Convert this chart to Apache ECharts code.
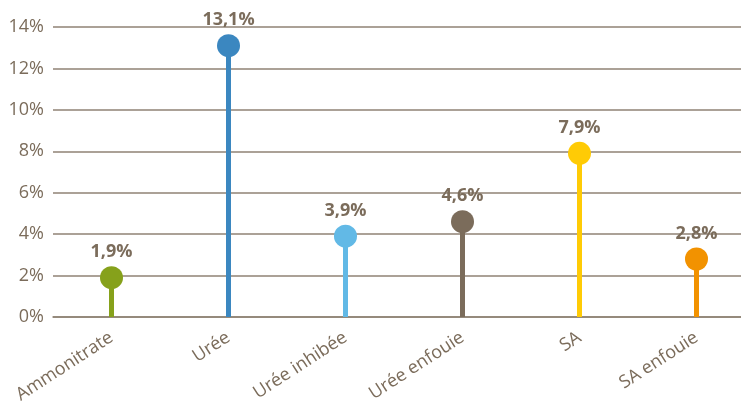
<!DOCTYPE html>
<html><head><meta charset="utf-8">
<script src="https://cdn.jsdelivr.net/npm/echarts@6/dist/echarts.min.js"></script>
<style>html,body{margin:0;padding:0;background:#fff;overflow:hidden}#c{width:755px;height:406px}</style>
</head><body><div id="c"></div>
<script>
const categories = ['Ammonitrate', 'Urée', 'Urée inhibée', 'Urée enfouie', 'SA', 'SA enfouie'];
const values = [1.9, 13.1, 3.9, 4.6, 7.9, 2.8];
const colors = ['#86a11b', '#3b87c0', '#62b9e6', '#7b6c5b', '#ffcb05', '#f29200'];
const yTicks = { min: 0, max: 14, interval: 2 };

const txt = '#7b6c5b';
const gridC = '#8f8274';
const chart = echarts.init(document.getElementById('c'), null, {renderer: 'canvas'});
chart.setOption({
  animation: false,
  grid: { left: 53, right: 0, top: 27, bottom: 89 },
  xAxis: {
    type: 'category', data: categories,
    axisTick: { show: false },
    axisLine: { lineStyle: { color: gridC, width: 1.5 } },
    axisLabel: { rotate: 33, color: txt, fontSize: 18, fontFamily: 'Open Sans', margin: 19, interval: 0 }
  },
  yAxis: {
    type: 'value', min: yTicks.min, max: yTicks.max, interval: yTicks.interval,
    axisLine: { show: false }, axisTick: { show: false },
    splitLine: { lineStyle: { color: gridC, width: 1.5 } },
    axisLabel: { formatter: '{value}%', color: txt, fontSize: 18, fontFamily: 'Open Sans', margin: 9 }
  },
  series: [
    {
      type: 'bar', barWidth: 5, z: 2,
      data: values.map((v, i) => ({ value: v, itemStyle: { color: colors[i] } }))
    },
    {
      type: 'scatter', symbol: 'circle', symbolSize: 23, z: 3,
      data: values.map((v, i) => ({ value: v, itemStyle: { color: colors[i], opacity: 1 } })),
      label: {
        show: true, position: 'top', distance: 5, color: txt, fontSize: 18, fontWeight: 'bold',
        fontFamily: 'Open Sans',
        formatter: p => String(p.value).replace('.', ',') + '%'
      }
    }
  ]
});
</script></body></html>
